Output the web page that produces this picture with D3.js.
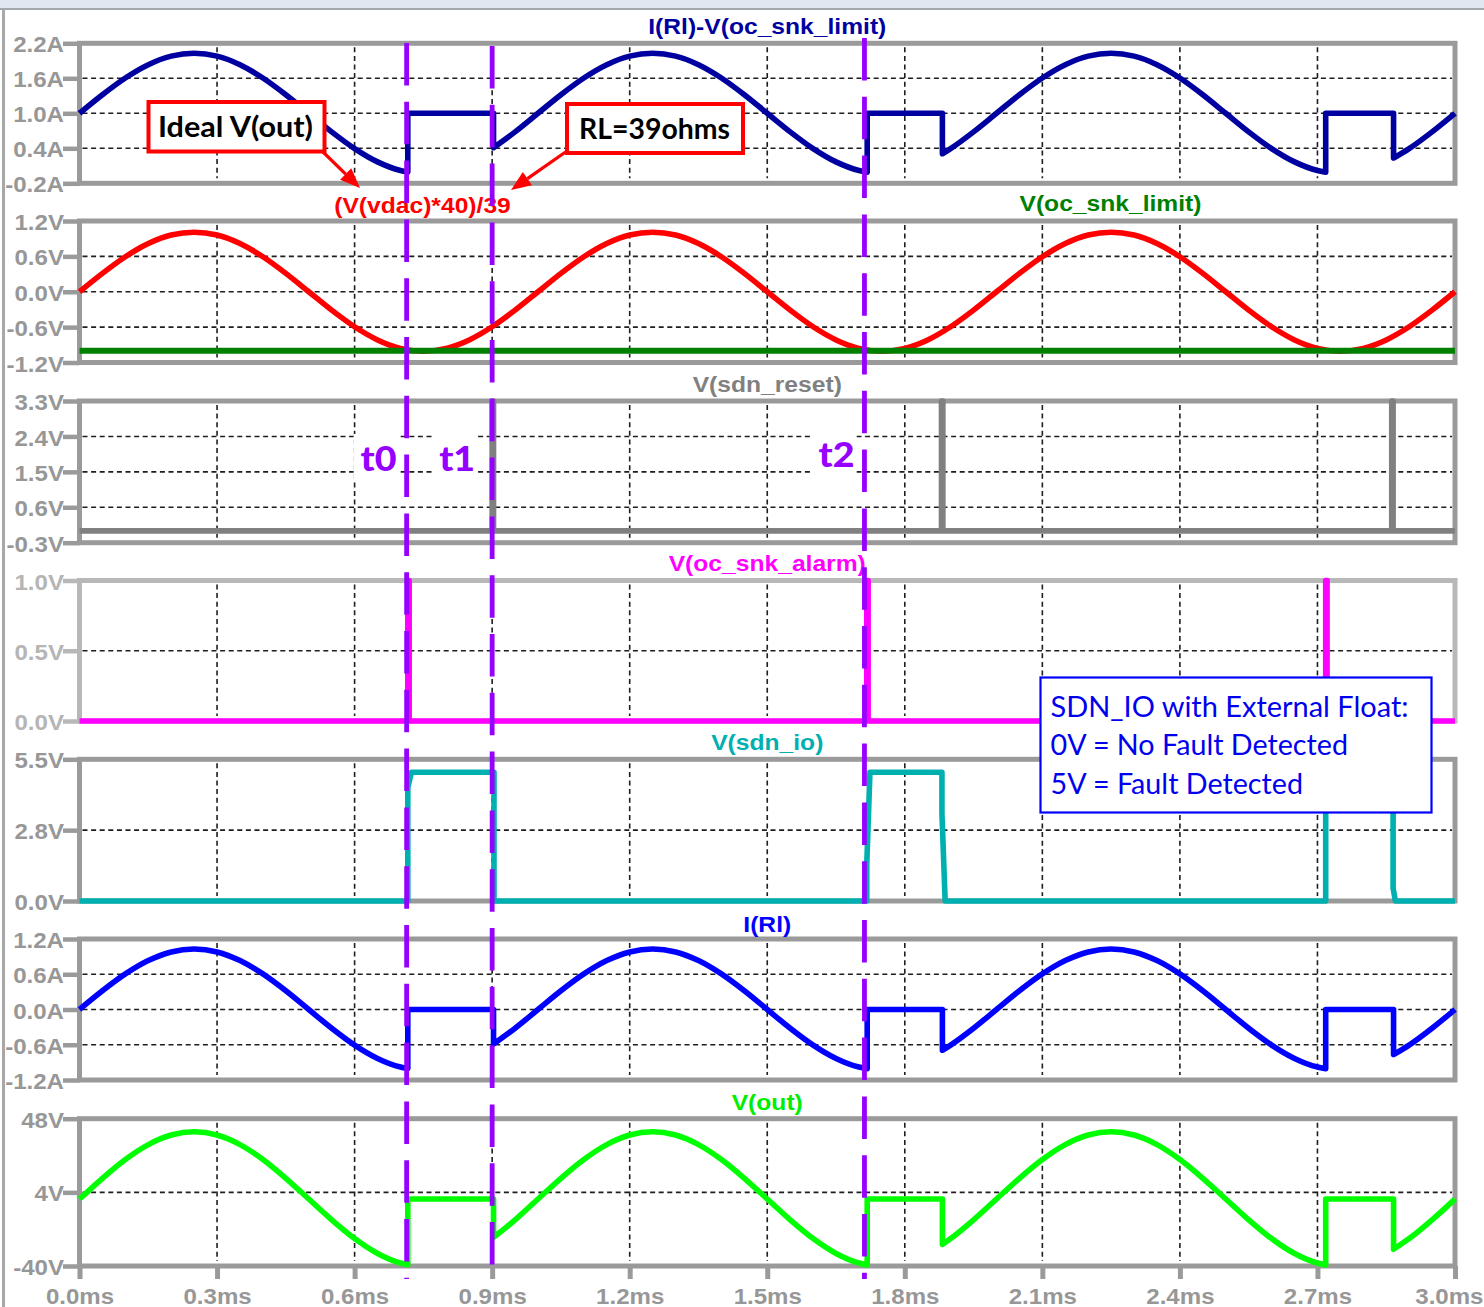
<!DOCTYPE html>
<html>
<head>
<meta charset="utf-8">
<script src="https://cdn.jsdelivr.net/npm/d3@7"></script>
<style>
  html, body { margin: 0; padding: 0; background: #ffffff; }
  svg { display: block; }
</style>
</head>
<body>
<svg id="chart" width="1484" height="1307"></svg>
<script>
// ---------------- data ----------------
// time axis (ms)
const timeTicks = [0, 0.3, 0.6, 0.9, 1.2, 1.5, 1.8, 2.1, 2.4, 2.7, 3.0];
const timeTickLabels = ["0.0ms","0.3ms","0.6ms","0.9ms","1.2ms","1.5ms","1.8ms","2.1ms","2.4ms","2.7ms","3.0ms"];

// per-pane y ticks
const limDiffTicks = [2.2, 1.6, 1.0, 0.4, -0.2];
const limDiffTickLabels = ["2.2A","1.6A","1.0A","0.4A","-0.2A"];
const dacTicks = [1.2, 0.6, 0.0, -0.6, -1.2];
const dacTickLabels = ["1.2V","0.6V","0.0V","-0.6V","-1.2V"];
const resetTicks = [3.3, 2.4, 1.5, 0.6, -0.3];
const resetTickLabels = ["3.3V","2.4V","1.5V","0.6V","-0.3V"];
const alarmTicks = [1.0, 0.5, 0.0];
const alarmTickLabels = ["1.0V","0.5V","0.0V"];
const sdnIoTicks = [5.5, 2.75, 0.0];
const sdnIoTickLabels = ["5.5V","2.8V","0.0V"];
const iRlTicks = [1.2, 0.6, 0.0, -0.6, -1.2];
const iRlTickLabels = ["1.2A","0.6A","0.0A","-0.6A","-1.2A"];
const vOutTicks = [48, 4, -40];
const vOutTickLabels = ["48V","4V","-40V"];

// ideal output scaled to load current: (V(vdac)*40)/39
const sampleTime = [0,0.05,0.1,0.15,0.2,0.25,0.3,0.35,0.4,0.45,0.5,0.55,0.6,0.65,0.7,0.75,0.8,0.85,0.9,0.95,
  1,1.05,1.1,1.15,1.2,1.25,1.3,1.35,1.4,1.45,1.5,1.55,1.6,1.65,1.7,1.75,1.8,1.85,1.9,1.95,
  2,2.05,2.1,2.15,2.2,2.25,2.3,2.35,2.4,2.45,2.5,2.55,2.6,2.65,2.7,2.75,2.8,2.85,2.9,2.95,3];
const vdacScaled = [0,0.312,0.594,0.817,0.961,1.010,0.961,0.817,0.594,0.312,0,-0.312,-0.594,-0.817,-0.961,-1.010,-0.961,-0.817,-0.594,-0.312,
  0,0.312,0.594,0.817,0.961,1.010,0.961,0.817,0.594,0.312,0,-0.312,-0.594,-0.817,-0.961,-1.010,-0.961,-0.817,-0.594,-0.312,
  0,0.312,0.594,0.817,0.961,1.010,0.961,0.817,0.594,0.312,0,-0.312,-0.594,-0.817,-0.961,-1.010,-0.961,-0.817,-0.594,-0.312,0];

// sink current limit threshold
const limitTime = [0, 3];
const ocSnkLimit = [-1.0, -1.0];

// load current and output voltage (repeated time = step)
const loadTime = [0,0.05,0.1,0.15,0.2,0.25,0.3,0.35,0.4,0.45,0.5,0.55,0.6,0.65,0.7,
  0.716,0.716,0.903,0.903,0.95,1,
  1.05,1.1,1.15,1.2,1.25,1.3,1.35,1.4,1.45,1.5,1.55,1.6,1.65,1.7,
  1.718,1.718,1.882,1.882,1.9,1.95,2,
  2.05,2.1,2.15,2.2,2.25,2.3,2.35,2.4,2.45,2.5,2.55,2.6,2.65,2.7,
  2.718,2.718,2.866,2.866,2.9,2.95,3];
const iRl = [0,0.318,0.605,0.833,0.980,1.030,0.980,0.833,0.605,0.318,0,-0.318,-0.605,-0.833,-0.980,
  -1.006,0,0,-0.588,-0.318,0,
  0.318,0.605,0.833,0.980,1.030,0.980,0.833,0.605,0.318,0,-0.318,-0.605,-0.833,-0.980,
  -1.009,0,0,-0.694,-0.605,-0.318,0,
  0.318,0.605,0.833,0.980,1.030,0.980,0.833,0.605,0.318,0,-0.318,-0.605,-0.833,-0.980,
  -1.009,0,0,-0.767,-0.605,-0.318,0];
const vOut = [0,12.42,23.63,32.52,38.23,40.20,38.23,32.52,23.63,12.42,0,-12.42,-23.63,-32.52,-38.23,
  -39.26,0,0,-22.93,-12.42,0,
  12.42,23.63,32.52,38.23,40.20,38.23,32.52,23.63,12.42,0,-12.42,-23.63,-32.52,-38.23,
  -39.39,0,0,-27.08,-23.63,-12.42,0,
  12.42,23.63,32.52,38.23,40.20,38.23,32.52,23.63,12.42,0,-12.42,-23.63,-32.52,-38.23,
  -39.39,0,0,-29.95,-23.63,-12.42,0];

// digital nodes
const resetTime = [0,0.9,0.9,0.903,0.903,1.880,1.880,1.883,1.883,2.862,2.862,2.865,2.865,3];
const sdnReset  = [0,0,3.3,3.3,0,0,3.3,3.3,0,0,3.3,3.3,0,0];
const alarmTime = [0,0.716,0.716,0.719,0.719,1.717,1.717,1.720,1.720,2.718,2.718,2.721,2.721,3];
const ocSnkAlarm = [0,0,1,1,0,0,1,1,0,0,1,1,0,0];
const sdnIoTime = [0,0.716,0.716,0.724,0.904,0.904,1.717,1.717,1.724,1.881,1.881,1.888,2.718,2.718,2.726,2.865,2.865,2.870,3];
const sdnIo     = [0,0,4.4,5.0,5.0,0,0,1.4,5.0,5.0,3.4,0,0,4.4,5.0,5.0,0.5,0,0];

// event cursors
const markerTimes = [0.7135, 0.9, 1.712];
const markerNames = ["t0", "t1", "t2"];

// ---------------- layout ----------------
const svg = d3.select("#chart");
const plotLeft = 79.5, plotRight = 1455;
const SX = 1.12;                       // horizontal stretch of the plot-window font
const axisFont = "'Liberation Sans', Arial, sans-serif";
const noteFont = "Lato, 'Open Sans', sans-serif";
const traceWidth = 5.6;

const x = d3.scaleLinear().domain([0, 3]).range([plotLeft, plotRight]);

const panes = [
  { top: 43.3,  bottom: 183.3, ticks: limDiffTicks, labels: limDiffTickLabels, frame: "#9a9a9a", text: "#979797" },
  { top: 221,   bottom: 362.5, ticks: dacTicks,     labels: dacTickLabels,     frame: "#9a9a9a", text: "#979797" },
  { top: 401,   bottom: 542.7, ticks: resetTicks,   labels: resetTickLabels,   frame: "#9a9a9a", text: "#979797" },
  { top: 580.5, bottom: 721,   ticks: alarmTicks,   labels: alarmTickLabels,   frame: "#b8b8b8", text: "#b5b5b5" },
  { top: 759.3, bottom: 901,   ticks: sdnIoTicks,   labels: sdnIoTickLabels,   frame: "#9a9a9a", text: "#979797" },
  { top: 939,   bottom: 1080,  ticks: iRlTicks,     labels: iRlTickLabels,     frame: "#9a9a9a", text: "#979797" },
  { top: 1118.7,bottom: 1266,  ticks: vOutTicks,    labels: vOutTickLabels,    frame: "#9a9a9a", text: "#979797" }
];
panes.forEach(p => {
  p.y = d3.scaleLinear().domain([d3.min(p.ticks), d3.max(p.ticks)]).range([p.bottom, p.top]);
});

// window chrome
svg.append("rect").attr("x", 0).attr("y", 0).attr("width", 1484).attr("height", 8).attr("fill", "#dfe8f1");
svg.append("line").attr("x1", 0).attr("x2", 1484).attr("y1", 9).attr("y2", 9).attr("stroke", "#a3a8ad").attr("stroke-width", 2);
svg.append("line").attr("x1", 3.5).attr("x2", 3.5).attr("y1", 9).attr("y2", 1307).attr("stroke", "#a8a8a8").attr("stroke-width", 3);

// ---------------- helpers ----------------
function analogPath(ts, vs, ys) {
  const line = d3.line().x(d => x(d[0])).y(d => ys(d[1])).curve(d3.curveMonotoneX);
  const runs = [];
  ts.forEach((t, i) => {
    if (i === 0 || t === ts[i - 1]) runs.push([]);
    runs[runs.length - 1].push([t, vs[i]]);
  });
  return runs.map((r, k) => {
    const d = line(r).replace(/Z$/, "");
    return k ? "L" + d.slice(1) : d;
  }).join("");
}
function digitalPath(ts, vs, ys) {
  return d3.line().x((d, i) => x(ts[i])).y((d, i) => ys(vs[i]))(ts);
}
function drawTrace(d, color, width) {
  svg.append("path").attr("d", d).attr("fill", "none").attr("stroke", color)
    .attr("stroke-width", width).attr("stroke-linejoin", "round").attr("stroke-linecap", "butt");
}
function traceLabel(text, cx, baseline, color) {
  svg.append("text")
    .attr("transform", `translate(${cx},${baseline}) scale(${SX},1)`)
    .attr("text-anchor", "middle")
    .attr("font-family", axisFont).attr("font-weight", "bold").attr("font-size", 22)
    .attr("fill", color).text(text);
}

// ---------------- panes: grid, frame, axes ----------------
const gridTimes = timeTicks.slice(1, -1);
panes.forEach((p, idx) => {
  const g = svg.append("g");
  // horizontal grid at interior ticks
  p.ticks.slice(1, -1).forEach(v => {
    g.append("line").attr("x1", plotLeft + 3).attr("x2", plotRight - 3)
      .attr("y1", p.y(v)).attr("y2", p.y(v))
      .attr("stroke", "#1e1e1e").attr("stroke-width", 1.6).attr("stroke-dasharray", "5,3.6");
  });
  // vertical grid
  gridTimes.forEach(t => {
    g.append("line").attr("x1", x(t)).attr("x2", x(t))
      .attr("y1", p.top + 4).attr("y2", p.bottom - 5)
      .attr("stroke", "#1e1e1e").attr("stroke-width", 1.6).attr("stroke-dasharray", "5,3.6");
  });
  // frame
  g.append("rect").attr("x", plotLeft).attr("y", p.top)
    .attr("width", plotRight - plotLeft).attr("height", p.bottom - p.top)
    .attr("fill", "none").attr("stroke", p.frame).attr("stroke-width", 5);
  // left axis
  const axis = d3.axisLeft(p.y).tickValues(p.ticks)
    .tickFormat((d, i) => p.labels[i]).tickSize(16.5).tickPadding(0);
  const ga = g.append("g").attr("transform", `translate(${plotLeft},0)`).call(axis)
    .attr("font-family", axisFont).attr("font-size", 21.5).attr("font-weight", "bold");
  ga.select(".domain").remove();
  ga.selectAll(".tick line").attr("stroke", p.frame).attr("stroke-width", 4.5);
  ga.selectAll(".tick text").attr("x", null).attr("dy", null)
    .attr("transform", `translate(-15.5,8.6) scale(${SX},1)`)
    .attr("fill", p.text);
});

// bottom time axis
{
  const last = panes[panes.length - 1];
  const axis = d3.axisBottom(x).tickValues(timeTicks)
    .tickFormat((d, i) => timeTickLabels[i]).tickSize(13).tickPadding(0);
  const ga = svg.append("g").attr("transform", `translate(0,${last.bottom})`).call(axis)
    .attr("font-family", axisFont).attr("font-size", 21.5).attr("font-weight", "bold");
  ga.select(".domain").remove();
  ga.selectAll(".tick line").attr("stroke", last.frame).attr("stroke-width", 5);
  const n = timeTicks.length;
  ga.selectAll(".tick text").attr("y", null).attr("dy", null)
    .attr("transform", `translate(0,37.5) scale(${SX},1)`)
    .attr("fill", last.text)
    .filter((d, i) => i === n - 1)            // last label sits against the right edge
    .attr("text-anchor", "end")
    .attr("transform", `translate(${1483 - plotRight},37.5) scale(${SX},1)`);
}

// ---------------- traces ----------------
const limitOffset = ocSnkLimit[0];
drawTrace(analogPath(loadTime, iRl.map(v => v - limitOffset), panes[0].y), "#0000a0", traceWidth);
drawTrace(analogPath(sampleTime, vdacScaled, panes[1].y), "#ff0000", traceWidth);
drawTrace(digitalPath(limitTime, ocSnkLimit, panes[1].y), "#008000", traceWidth + 0.4);
drawTrace(digitalPath(resetTime, sdnReset, panes[2].y), "#808080", traceWidth);
drawTrace(digitalPath(alarmTime, ocSnkAlarm, panes[3].y), "#ff00ff", traceWidth);
drawTrace(digitalPath(sdnIoTime, sdnIo, panes[4].y), "#00b0b0", traceWidth);
drawTrace(analogPath(loadTime, iRl, panes[5].y), "#0000ff", traceWidth);
drawTrace(analogPath(loadTime, vOut, panes[6].y), "#00ff00", traceWidth);

// trace names
const mid = (plotLeft + plotRight) / 2;
traceLabel("I(Rl)-V(oc_snk_limit)", mid, panes[0].top - 9.5, "#0000a0");
traceLabel("(V(vdac)*40)/39", 422.5, panes[1].top - 8, "#ff0000");
traceLabel("V(oc_snk_limit)", 1110.5, panes[1].top - 10, "#008000");
traceLabel("V(sdn_reset)", mid, panes[2].top - 9, "#808080");
traceLabel("V(oc_snk_alarm)", mid, panes[3].top - 9.5, "#ff00ff");
traceLabel("V(sdn_io)", mid, panes[4].top - 9.3, "#00b0b0");
traceLabel("I(Rl)", mid, panes[5].top - 7.5, "#0000ff");
traceLabel("V(out)", mid, panes[6].top - 8.7, "#00ee00");

// ---------------- event cursors ----------------
const cursorColor = "#9500ff";
const cursorStart = [43, 46, 38];
markerTimes.forEach((t, i) => {
  svg.append("line").attr("x1", x(t)).attr("x2", x(t))
    .attr("y1", cursorStart[i]).attr("y2", 1279)
    .attr("stroke", cursorColor).attr("stroke-width", 4.8)
    .attr("stroke-dasharray", "42.5,16.3");
});
// cursor names on white patches
const nameGap = [10, 17, 10];
const nameBase = [471, 471, 467];
markerTimes.forEach((t, i) => {
  const right = x(t) - nameGap[i];
  svg.append("rect").attr("x", right - 43).attr("y", nameBase[i] - 37)
    .attr("width", 45).attr("height", 45).attr("fill", "#ffffff");
  svg.append("text").attr("x", right).attr("y", nameBase[i])
    .attr("text-anchor", "end")
    .attr("font-family", noteFont).attr("font-weight", "900").attr("font-size", 34)
    .attr("textLength", 36).attr("lengthAdjust", "spacingAndGlyphs")
    .attr("fill", cursorColor).text(markerNames[i]);
});

// ---------------- callouts ----------------
function arrow(x1, y1, x2, y2, color) {
  const ang = Math.atan2(y2 - y1, x2 - x1);
  const len = 20, half = 8;
  const bx = x2 - len * Math.cos(ang), by = y2 - len * Math.sin(ang);
  svg.append("line").attr("x1", x1).attr("y1", y1).attr("x2", bx).attr("y2", by)
    .attr("stroke", color).attr("stroke-width", 3.2);
  const px = -Math.sin(ang) * half, py = Math.cos(ang) * half;
  svg.append("path")
    .attr("d", `M${x2},${y2}L${bx + px},${by + py}L${bx - px},${by - py}Z`)
    .attr("fill", color);
}
function callout(text, bx, by, bw, bh, tx, tb, tw) {
  svg.append("rect").attr("x", bx).attr("y", by).attr("width", bw).attr("height", bh)
    .attr("fill", "#ffffff").attr("stroke", "#ff0000").attr("stroke-width", 4);
  svg.append("text").attr("x", tx).attr("y", tb)
    .attr("font-family", noteFont).attr("font-weight", "bold").attr("font-size", 28)
    .attr("textLength", tw).attr("lengthAdjust", "spacingAndGlyphs")
    .attr("fill", "#000000").text(text);
}
arrow(322, 151, 360, 188, "#ff0000");
arrow(567, 151, 511, 190, "#ff0000");
callout("Ideal V(out)", 148.5, 102, 176, 49.5, 158, 137, 155);
callout("RL=39ohms", 567, 104, 176, 49, 579, 138.5, 151);

// legend note for SDN_IO
const noteLines = ["SDN_IO with External Float:", "0V = No Fault Detected", "5V = Fault Detected"];
const noteWidths = [358, 297.5, 252.5];
svg.append("rect").attr("x", 1040.5).attr("y", 677.5).attr("width", 391).attr("height", 135)
  .attr("fill", "#ffffff").attr("stroke", "#0000ff").attr("stroke-width", 2.2);
noteLines.forEach((s, i) => {
  svg.append("text").attr("x", 1050.5).attr("y", 716.7 + i * 38.6)
    .attr("font-family", noteFont).attr("font-size", 28)
    .attr("textLength", noteWidths[i]).attr("lengthAdjust", "spacingAndGlyphs")
    .attr("fill", "#0000ee").text(s);
});
</script>
</body>
</html>
